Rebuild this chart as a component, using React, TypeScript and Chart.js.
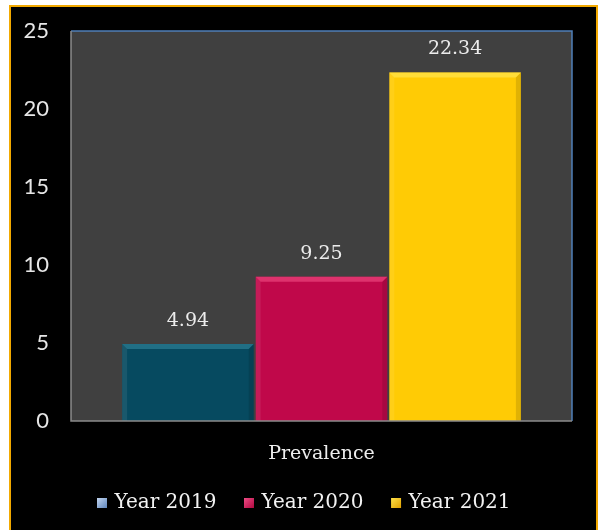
import { useEffect, useRef } from 'react';
import { Chart, registerables } from 'chart.js';

Chart.register(...registerables);

const categories = ['Prevalence'];
const seriesNames = ['Year 2019', 'Year 2020', 'Year 2021'];
const values2019 = [4.94];
const values2020 = [9.25];
const values2021 = [22.34];
const yTicks = [0, 5, 10, 15, 20, 25];

const barColors = ['#064a60', '#c0084a', '#ffcb05'];
const barHighlights = ['#2b7c92', '#e8407a', '#ffe34a'];
const legendLight = ['#c3d6f0', '#ee4c86', '#ffe24a'];
const legendDark = ['#5f86bd', '#b0083f', '#e0a000'];

const SERIF = '"DejaVu Serif", serif';

function makeLegendIcon(i: number): HTMLCanvasElement {
  const c = document.createElement('canvas');
  c.width = 34;
  c.height = 10;
  const g = c.getContext('2d') as CanvasRenderingContext2D;
  const grad = g.createLinearGradient(22, 0, 32, 10);
  grad.addColorStop(0, legendLight[i]);
  grad.addColorStop(1, legendDark[i]);
  g.fillStyle = grad;
  g.fillRect(22, 0, 10, 10);
  return c;
}

const panelPlugin = {
  id: 'panel',
  beforeDraw(chart: any) {
    const { ctx, width, height, chartArea } = chart;
    ctx.save();
    ctx.fillStyle = '#ffffff';
    ctx.fillRect(0, 0, width, height);
    ctx.fillStyle = '#000000';
    ctx.fillRect(10, 6, 587, height - 6);
    ctx.strokeStyle = '#f2a900';
    ctx.lineWidth = 2;
    ctx.strokeRect(10, 6, 587, height + 4);
    ctx.fillStyle = '#404040';
    ctx.fillRect(chartArea.left, chartArea.top, chartArea.right - chartArea.left, chartArea.bottom - chartArea.top);
    ctx.restore();
  },
  afterDatasetsDraw(chart: any) {
    const { ctx, chartArea } = chart;
    ctx.save();
    chart.data.datasets.forEach((ds: any, di: number) => {
      const meta = chart.getDatasetMeta(di);
      meta.data.forEach((bar: any, i: number) => {
        const props = bar.getProps(['x', 'y', 'base', 'width'], true);
        const l = props.x - props.width / 2;
        const r = props.x + props.width / 2;
        const t = props.y;
        const b = props.base;
        const bev = 5;
        ctx.fillStyle = barHighlights[di];
        ctx.globalAlpha = 0.75;
        ctx.beginPath();
        ctx.moveTo(l, t);
        ctx.lineTo(r, t);
        ctx.lineTo(r - bev, t + bev);
        ctx.lineTo(l + bev, t + bev);
        ctx.closePath();
        ctx.fill();
        ctx.globalAlpha = 0.12;
        ctx.fillStyle = '#000000';
        ctx.beginPath();
        ctx.moveTo(r, t);
        ctx.lineTo(r, b);
        ctx.lineTo(r - bev, b);
        ctx.lineTo(r - bev, t + bev);
        ctx.closePath();
        ctx.fill();
        ctx.globalAlpha = 0.08;
        ctx.fillStyle = '#ffffff';
        ctx.beginPath();
        ctx.moveTo(l, t);
        ctx.lineTo(l + bev, t + bev);
        ctx.lineTo(l + bev, b);
        ctx.lineTo(l, b);
        ctx.closePath();
        ctx.fill();
        ctx.globalAlpha = 1;
        const v = ds.data[i];
        ctx.fillStyle = '#ececec';
        ctx.font = '19px ' + SERIF;
        ctx.textAlign = 'center';
        ctx.textBaseline = 'middle';
        ctx.fillText(v.toFixed(2), props.x, t - 23);
      });
    });
    ctx.lineWidth = 1.5;
    ctx.strokeStyle = '#4f7fb8';
    ctx.beginPath();
    ctx.moveTo(chartArea.left, chartArea.top);
    ctx.lineTo(chartArea.right, chartArea.top);
    ctx.lineTo(chartArea.right, chartArea.bottom);
    ctx.stroke();
    ctx.strokeStyle = '#8a8a8a';
    ctx.beginPath();
    ctx.moveTo(chartArea.left, chartArea.top);
    ctx.lineTo(chartArea.left, chartArea.bottom);
    ctx.lineTo(chartArea.right, chartArea.bottom);
    ctx.stroke();
    ctx.restore();
  },
};

export default function App() {
  const ref = useRef<HTMLCanvasElement | null>(null);
  useEffect(() => {
    if (!ref.current) return;
    const seriesValues = [values2019, values2020, values2021];
    const icons = seriesNames.map((_, i) => makeLegendIcon(i));
    const chart = new Chart(ref.current, {
      type: 'bar',
      data: {
        labels: categories,
        datasets: seriesNames.map((name, i) => ({
          label: name,
          data: seriesValues[i],
          backgroundColor: barColors[i],
          borderWidth: 0,
          categoryPercentage: 0.8,
          barPercentage: 0.985,
        })),
      },
      options: {
        animation: false,
        responsive: false,
        maintainAspectRatio: false,
        layout: { padding: { left: 18, right: 32, top: 31, bottom: 7 } },
        plugins: {
          tooltip: { enabled: false },
          legend: {
            position: 'bottom',
            align: 'center',
            labels: {
              usePointStyle: true,
              pointStyleWidth: 25,
              boxHeight: 10,
              padding: 10,
              color: '#f2f2f2',
              font: { family: SERIF, size: 20 },
              generateLabels: () =>
                seriesNames.map((name, i) => ({
                  text: name,
                  fillStyle: legendDark[i],
                  strokeStyle: legendDark[i],
                  lineWidth: 0,
                  pointStyle: icons[i],
                  fontColor: '#f2f2f2',
                  hidden: false,
                  datasetIndex: i,
                })),
            },
          },
        },
        scales: {
          x: {
            grid: { display: false, drawTicks: false },
            border: { display: false },
            ticks: { color: '#eeeeee', font: { family: SERIF, size: 19 }, padding: 22 },
            afterFit: (s: any) => {
              s.height = 62;
            },
          },
          y: {
            min: 0,
            max: 25,
            grid: { display: false, drawTicks: false },
            border: { display: false },
            afterBuildTicks: (s: any) => {
              s.ticks = yTicks.map((v) => ({ value: v }));
            },
            ticks: { color: '#e6e6e6', font: { family: 'Lato, sans-serif', size: 22 }, padding: 22 },
            afterFit: (s: any) => {
              s.width = 53;
              s.paddingTop = 10;
              s.paddingBottom = 10;
            },
          },
        },
      },
      plugins: [panelPlugin],
    } as any);
    return () => chart.destroy();
  }, []);
  return (
    <div style={{ position: 'absolute', left: 0, top: 0, width: 604, height: 530 }}>
      <canvas ref={ref} width={604} height={530} style={{ width: 604, height: 530, display: 'block' }} />
    </div>
  );
}
